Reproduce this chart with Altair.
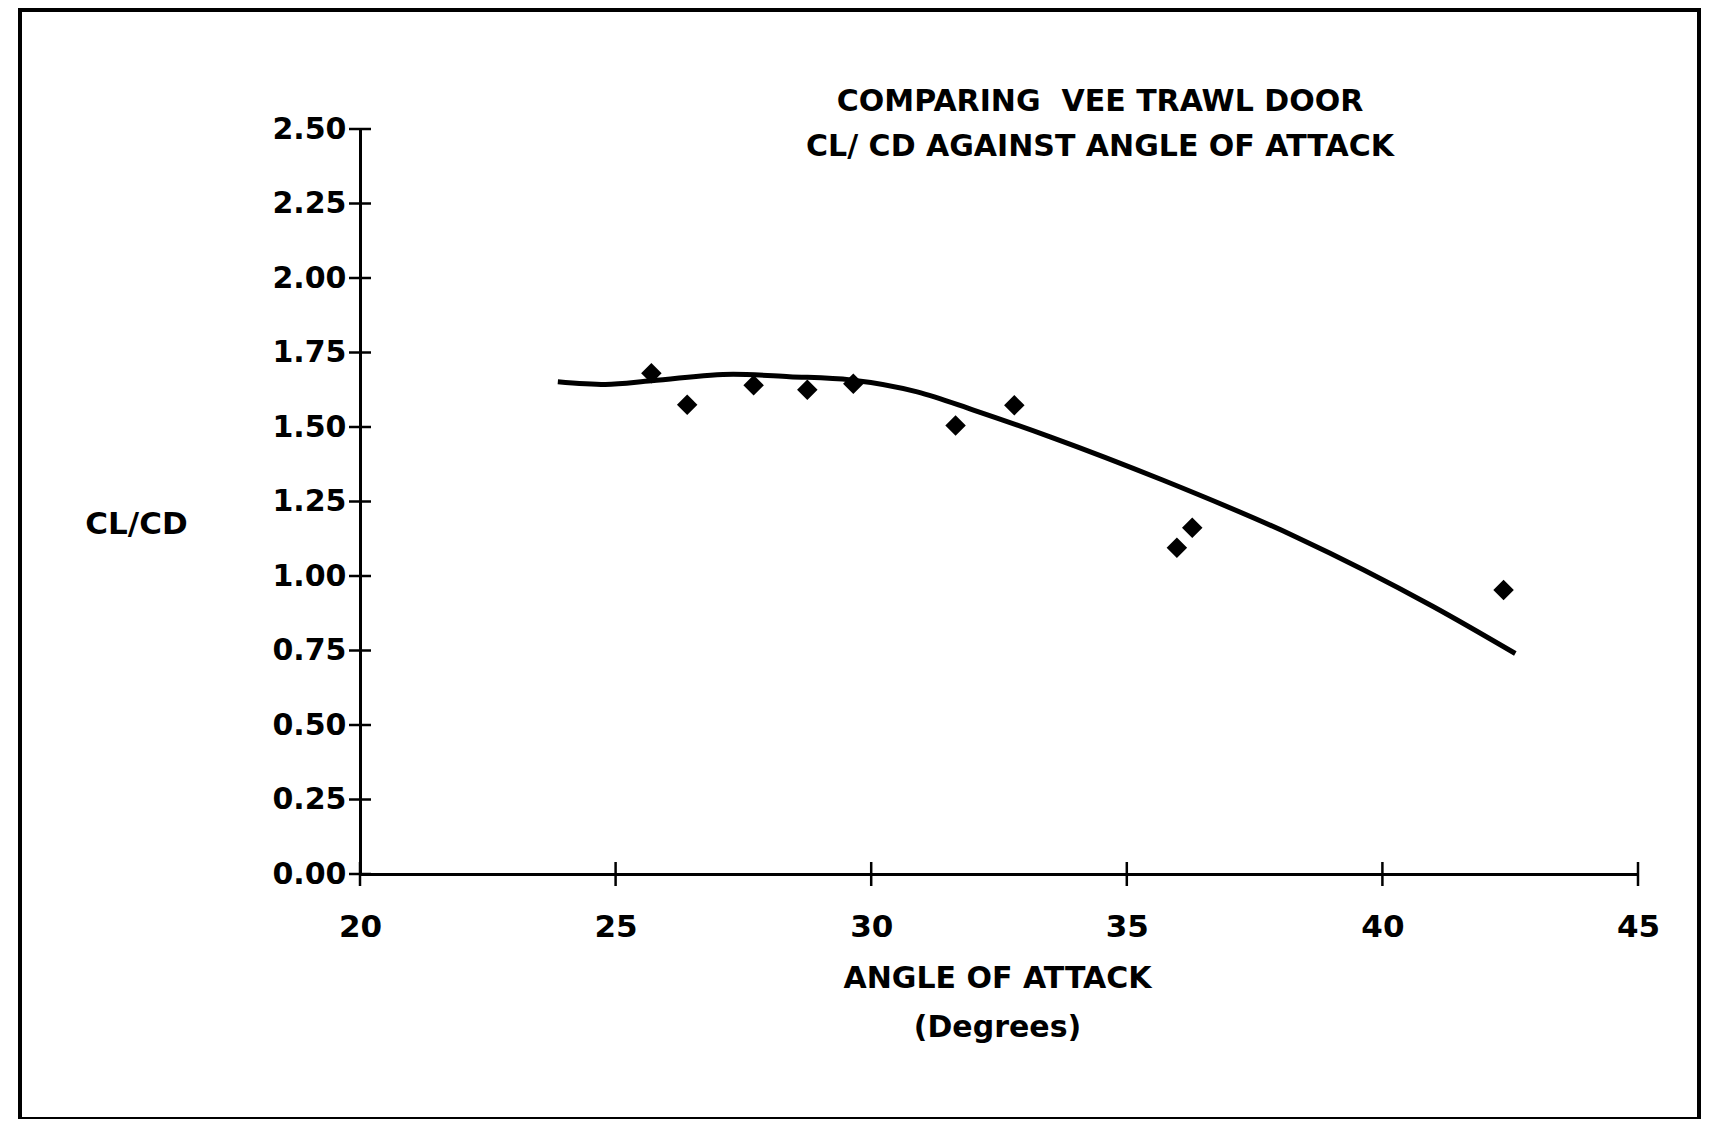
import altair as alt
import pandas as pd

# Measured points (diamonds)
pt_angle = [25.7, 26.4, 27.7, 28.75, 29.65, 31.65, 32.8, 35.98, 36.28, 42.37]
pt_clcd = [1.68, 1.575, 1.64, 1.625, 1.645, 1.505, 1.573, 1.095, 1.162, 0.953]

# Fitted curve
curve_angle = [23.87, 24.8, 25.7, 27.3, 28.4, 29.6, 30.9, 32.0, 33.5, 35.7, 38.3, 41.0, 42.6]
curve_clcd = [1.652, 1.643, 1.655, 1.677, 1.669, 1.658, 1.618, 1.557, 1.467, 1.322, 1.132, 0.897, 0.740]

x_ticks = [20, 25, 30, 35, 40, 45]
y_ticks = [0.0, 0.25, 0.5, 0.75, 1.0, 1.25, 1.5, 1.75, 2.0, 2.25, 2.5]

title_lines = ["COMPARING\u00a0\u00a0VEE TRAWL DOOR", "CL/ CD AGAINST ANGLE OF ATTACK"]
x_title = ["ANGLE OF ATTACK", "(Degrees)"]
y_title = "CL/CD"

pts = pd.DataFrame({"angle": pt_angle, "clcd": pt_clcd})
curve = pd.DataFrame({"angle": curve_angle, "clcd": curve_clcd})
xt = pd.DataFrame({"angle": x_ticks, "clcd": [0.0] * len(x_ticks)})
yt = pd.DataFrame({"angle": [20] * len(y_ticks), "clcd": y_ticks})
ttl = pd.DataFrame({"t": ["\n".join(title_lines)]})

W, H = 1278, 745
FONT = "DejaVu Sans"


def X():
    return alt.X(
        "angle:Q",
        scale=alt.Scale(domain=[20, 45], nice=False, zero=False),
        axis=alt.Axis(
            values=x_ticks, format="d", ticks=False, grid=False,
            domainColor="black", domainWidth=3,
            labelFont=FONT, labelFontSize=31, labelFontWeight="bold", labelColor="black",
            labelPadding=38, labelFlush=False,
            title=x_title, titleFont=FONT, titleFontSize=30, titleFontWeight="bold",
            titleColor="black", titleLineHeight=49, titleBaseline="alphabetic",
            titleAnchor="middle", titleX=637, titleY=113,
        ),
    )


def Y():
    return alt.Y(
        "clcd:Q",
        scale=alt.Scale(domain=[0, 2.5], nice=False, zero=False),
        axis=alt.Axis(
            values=y_ticks, format=".2f", ticks=False, grid=False,
            domainColor="black", domainWidth=3,
            labelFont=FONT, labelFontSize=30, labelFontWeight="bold", labelColor="black",
            labelPadding=14, labelFlush=False,
            title=y_title, titleFont=FONT, titleFontSize=31, titleFontWeight="bold",
            titleColor="black", titleAngle=0, titleAlign="center", titleBaseline="middle",
            titleX=-224, titleY=395,
        ),
    )


line = alt.Chart(curve).mark_line(
    color="black", strokeWidth=5, interpolate="monotone"
).encode(x=X(), y=Y())

points = alt.Chart(pts).mark_point(
    shape="diamond", filled=True, color="black", size=420, opacity=1
).encode(x=X(), y=Y())

xticks = alt.Chart(xt).mark_tick(
    orient="vertical", color="black", size=24, thickness=2.5, opacity=1
).encode(x=X(), y=Y())

yticks = alt.Chart(yt).mark_tick(
    orient="horizontal", color="black", size=22, thickness=2.5, opacity=1
).encode(x=X(), y=Y())

frame = alt.Chart(pd.DataFrame({"k": [0]})).mark_rect(
    fill=None, stroke="black", strokeWidth=4
).encode(
    x=alt.value(-340), x2=alt.value(1339), y=alt.value(-119), y2=alt.value(990)
)

title = alt.Chart(ttl).mark_text(
    lineBreak="\n", font=FONT, fontSize=30, fontWeight="bold", color="black",
    align="center", baseline="middle", lineHeight=45,
).encode(text="t:N", x=alt.value(740), y=alt.value(-27))

chart = alt.layer(frame, line, xticks, yticks, points, title).properties(
    width=W,
    height=H,
    autosize=alt.AutoSizeParams(type="none"),
    padding={"left": 352, "top": 121, "right": 66, "bottom": 245},
).configure(background="white").configure_view(strokeWidth=0)

chart.save("out.html", embed_options={"renderer": "svg", "actions": False})
